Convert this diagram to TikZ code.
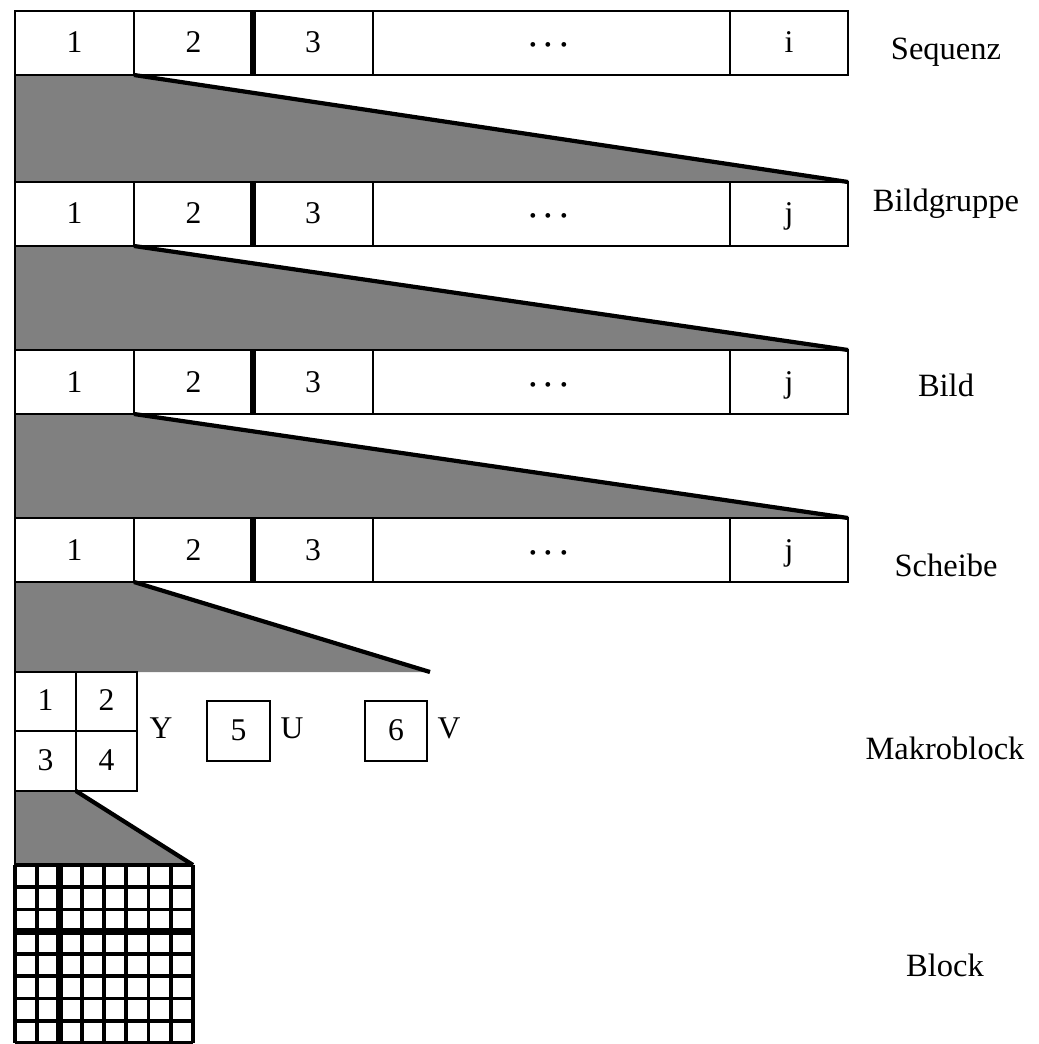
\documentclass[tikz,border=0pt]{standalone}
\usepackage{amsmath}
\usepackage{fontspec}
\setmainfont{Liberation Serif}
\usetikzlibrary{calc}

\begin{document}
\begin{tikzpicture}[
  x=0.02cm, y=-0.02cm,
  frame/.style={line width=1.6pt},
  bar/.style={line width=3pt},
  grid/.style={line width=2.1pt},
  gridbar/.style={line width=3.8pt},
  wedge/.style={fill=black!50},
  slope/.style={line width=2.4pt},
  num/.style={anchor=base, inner sep=0pt, font=\fontsize{18}{20}\selectfont},
  lab/.style={anchor=base, inner sep=0pt, font=\fontsize{18.5}{20}\selectfont}
]
\useasboundingbox (0,0) rectangle (1038,1044);

\foreach \a/\b/\tip in {75/182/848, 246/350/848, 414/518/848, 582/672/430, 791/865/193}{
  \ifnum\b=865
    \fill[wedge] (15,\a) -- (76,\a) -- (\tip,\b) -- (15,\b) -- cycle;
    \draw[slope] (76,\a) -- (\tip,\b);
  \else
    \fill[wedge] (15,\a) -- (134,\a) -- (\tip,\b) -- (15,\b) -- cycle;
    \draw[slope] (134,\a) -- (\tip,\b);
  \fi
  \draw[frame] (15,\a) -- (15,\b);
}

\foreach \name/\ty/\last/\title/\tb in {seq/11/i/Sequenz/60, grp/182/j/Bildgruppe/212, bild/350/j/Bild/396, sch/518/j/Scheibe/576}{
  \draw[frame] (15,\ty) rectangle (848,\ty+64);
  \foreach \xx in {134,373,730} \draw[frame] (\xx,\ty) -- (\xx,\ty+64);
  \draw[bar] (253,\ty) -- (253,\ty+64);
  \node[num] (\name-1) at (74.5,\ty+42) {1};
  \node[num] (\name-2) at (193.5,\ty+42) {2};
  \node[num] (\name-3) at (313,\ty+42) {3};
  \node[num] (\name-dots) at (551.5,\ty+42) {$\boldsymbol{\cdots}$};
  \node[num] (\name-last) at (789,\ty+42) {\last};
  \node[lab] (\name-lab) at (946,\tb) {\title};
}

\draw[frame] (15,672) rectangle (137,791);
\draw[frame] (76,672) -- (76,791);
\draw[frame] (15,731) -- (137,731);
\node[num] (mb-1) at (45.5,710) {1};
\node[num] (mb-2) at (106.5,710) {2};
\node[num] (mb-3) at (45.5,770) {3};
\node[num] (mb-4) at (106.5,770) {4};
\node[num] (mb-y) at (161,738) {Y};
\draw[frame] (207,701) rectangle (270,761);
\node[num] (mb-5) at (238.5,740) {5};
\node[num] (mb-u) at (292,738) {U};
\draw[frame] (365,701) rectangle (427,761);
\node[num] (mb-6) at (396,740) {6};
\node[num] (mb-v) at (449,738) {V};
\node[lab] (mb-lab) at (945,759) {Makroblock};

\foreach \i in {0,...,8}{
  \draw[grid] (15+22.25*\i,865) -- (15+22.25*\i,1043);
  \draw[grid] (15,865+22.25*\i) -- (193,865+22.25*\i);
}
\draw[gridbar] (59.5,865) -- (59.5,1043);
\draw[gridbar] (15,931.75) -- (193,931.75);
\node[lab] (blk-lab) at (945,976) {Block};
\end{tikzpicture}
\end{document}
